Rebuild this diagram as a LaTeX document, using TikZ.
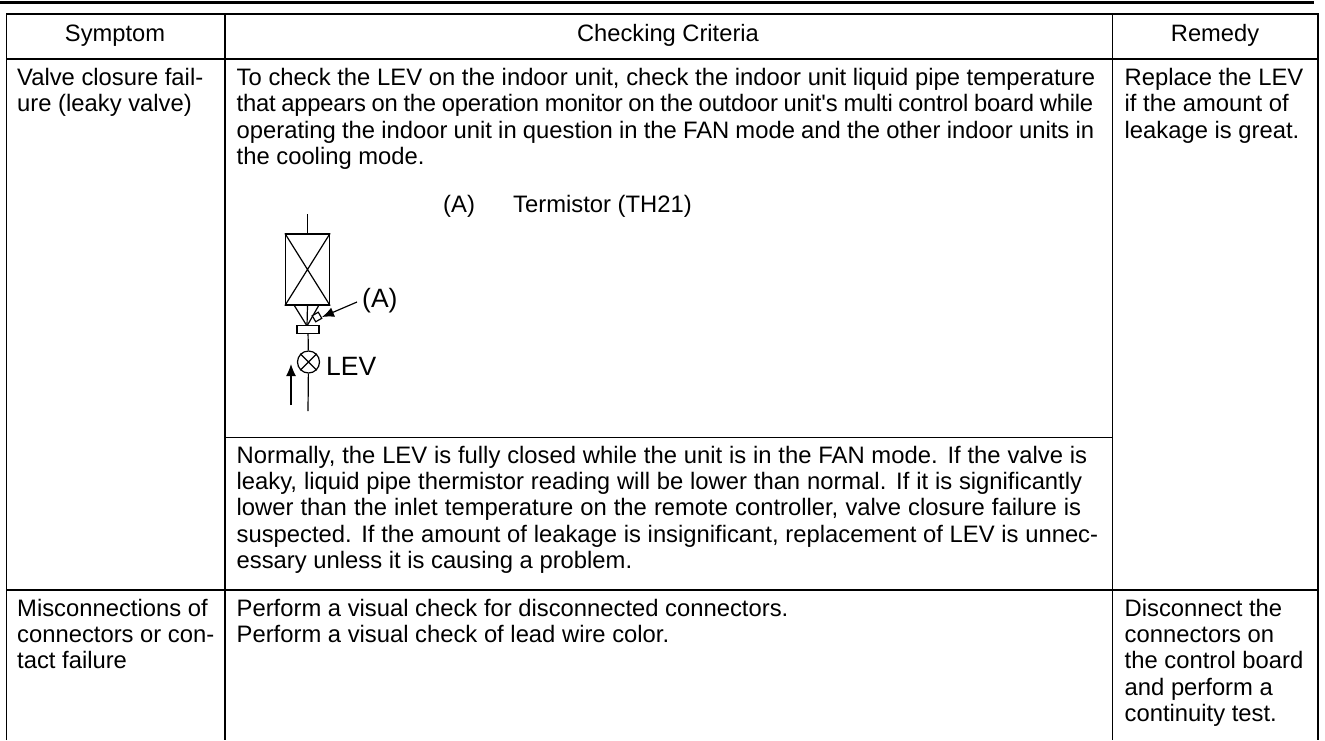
\documentclass[tikz,border=0pt]{standalone}
\usepackage{fontspec}
\setmainfont{Liberation Sans}
\usetikzlibrary{positioning,arrows.meta}
\tikzset{
  rulebar/.style={line width=3pt},
  cellline/.style={line width=1.8pt},
  pipeline/.style={line width=1.2pt},
  headtext/.style={anchor=base,font=\fontsize{23.7}{26}\selectfont},
  celltext/.style={anchor=base west,inner sep=0pt,font=\fontsize{23.8}{26}\selectfont},
  diagtext/.style={anchor=base west,inner sep=0pt,font=\fontsize{26.5}{30}\selectfont},
  tipline/.style={line width=1.2pt,-{Latex[length=12pt,width=10pt]}},
}
\newcommand{\celllines}[4]{%
  \foreach \t [count=\n from 0] in {#4} {
    \node[celltext] (#1-\n) at (#2,#3+26.4*\n) {\t};
  }
}
\newcommand{\fitline}[2]{\hbox to #1pt{\spaceskip=.27em plus 1fil minus 1fil\relax #2}}
\begin{document}
\begin{tikzpicture}[x=1pt,y=-1pt]
  \useasboundingbox (0,0) rectangle (1325,740);

  % Top rule and table frame
  \draw[rulebar] (0,2.4) -- (1314,2.4);
  \draw[cellline] (6.5,740) -- (6.5,14) -- (1318,14) -- (1318,740);
  \draw[cellline] (6.5,59) -- (1318,59);
  \draw[cellline] (6.5,590) -- (1318,590);
  \draw[cellline] (225,14) -- (225,740);
  \draw[cellline] (1112.5,14) -- (1112.5,740);
  \draw[cellline] (225,437.5) -- (1112.5,437.5);

  % Header row
  \node[headtext] (symptom) at (115,41) {Symptom};
  \node[headtext] (criteria) at (668,41) {Checking Criteria};
  \node[headtext] (remedy) at (1215,41) {Remedy};

  % Text columns
  \celllines{a}{17}{85.5}{Valve closure fail-,ure (leaky valve)}
  \celllines{b}{236.5}{85.5}{\fitline{858.5}{To check the LEV on the indoor unit{,} check the indoor unit liquid pipe temperature},
    \fitline{856.5}{\addfontfeature{LetterSpace=-1}that appears on the operation monitor on the outdoor unit\textquotesingle s multi control board while},
    \fitline{857.5}{operating the indoor unit in question in the FAN mode and the other indoor units in},
    the cooling mode.}
  \celllines{c}{1124.5}{85.5}{Replace the LEV,if the amount of,leakage is great.}
  \celllines{d}{236.5}{463}{\fitline{850.5}{Normally{,} the LEV is fully closed while the unit is in the FAN mode. If the valve is},
    \fitline{845.5}{leaky{,} liquid pipe thermistor reading will be lower than normal. If it is significantly},
    \fitline{844.5}{lower than the inlet temperature on the remote controller{,} valve closure failure is},
    \fitline{861.5}{suspected. If the amount of leakage is insignificant{,} replacement of LEV is unnec-},
    essary unless it is causing a problem.}
  \celllines{e}{17}{616}{Misconnections of,connectors or con-,tact failure}
  \celllines{f}{236.5}{616}{Perform a visual check for disconnected connectors.,Perform a visual check of lead wire color.}
  \celllines{g}{1124.5}{616}{Disconnect the,connectors on,the control board,and perform a,continuity test.}

  % Legend
  \node[celltext] (legendA) at (443,212) {(A)};
  \node[celltext] (legendB) at (513,212) {Termistor (TH21)};

  % Heat exchanger and pipe
  \node[draw,pipeline,minimum width=44pt,minimum height=71pt,inner sep=0pt] (coil) at (307.5,269.5) {};
  \node[draw,pipeline,circle,minimum size=22pt,inner sep=0pt] (valve) at (308.5,362) {};
  \coordinate (pipetop) at (307.5,214);
  \coordinate (pipebottom) at (308,411);
  \coordinate (joint) at (307,326);
  \draw[pipeline] (pipetop) -- (coil.north);
  \draw[pipeline] (coil.north west) -- (coil.south east) (coil.north east) -- (coil.south west);
  \draw[pipeline] (coil.south) -- (joint);
  \draw[pipeline] (294,305) -- (joint) -- (319,305);
  \node[draw,pipeline,fill=white,minimum width=22pt,minimum height=8pt,inner sep=0pt] (header) at (308,329.5) {};
  \draw[pipeline] (header) -- (valve);
  \draw[pipeline] (valve) -- (pipebottom);
  \draw[pipeline] (valve.north west) -- (valve.south east) (valve.north east) -- (valve.south west);

  % Thermistor and arrows
  \node[draw,pipeline,fill=white,rotate=30,minimum size=7pt,inner sep=0pt] (sensor) at (317,317) {};
  \node[diagtext] (labelA) at (362,307) {(A)};
  \node[diagtext] (labelLEV) at (326,375) {LEV};
  \coordinate (flowstart) at (291,405);
  \coordinate (flowend) at (291,364);
  \coordinate (tipstart) at (357,302);
  \coordinate (tipend) at (322,317);
  \draw[tipline] (tipstart) -- (tipend);
  \draw[tipline] (flowstart) -- (flowend);
\end{tikzpicture}
\end{document}
